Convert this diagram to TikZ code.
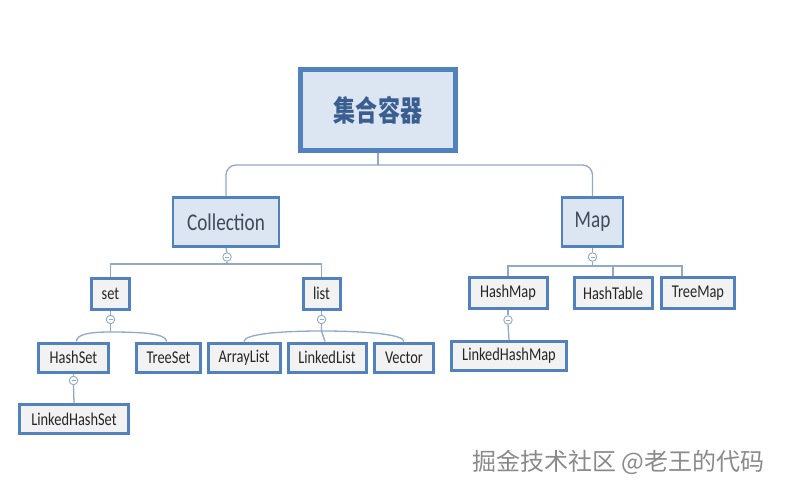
\documentclass[tikz,border=0pt]{standalone}
\usepackage{fontspec}
\setmainfont{Carlito}[FakeStretch=0.8]
\newfontfamily\cjk{Noto Sans CJK SC}
\newfontfamily\cjknarrow{Noto Sans CJK SC}[FakeStretch=0.76]
\definecolor{bordblue}{HTML}{5282BE}
\definecolor{lightfill}{HTML}{DCE6F2}
\definecolor{childfill}{HTML}{F2F2F2}
\definecolor{connc}{HTML}{8EA9C9}
\definecolor{roottext}{HTML}{3B5E91}
\definecolor{midtext}{HTML}{3E4A5C}
\definecolor{wmark}{HTML}{8A8A8A}
\tikzset{
  rootbox/.style={draw=bordblue,fill=lightfill,line width=4.5pt,minimum width=155pt,minimum height=81pt,inner sep=0pt,font=\cjknarrow\bfseries\fontsize{29}{32}\selectfont,text=roottext},
  midbox/.style={draw=bordblue,fill=lightfill,line width=2.8pt,minimum height=49pt,inner sep=0pt,font=\fontsize{24}{27}\selectfont,text=midtext},
  childbox/.style={draw=bordblue,fill=childfill,line width=3pt,inner sep=0pt,font=\fontsize{18}{20}\selectfont,text=black!85},
  conn/.style={draw=connc,line width=1.3pt},
  collapse/.style={circle,draw=connc,line width=0.9pt,fill=white,minimum size=8.5pt,inner sep=0pt,
    path picture={\draw[connc,line width=0.7pt] ([xshift=-2pt]path picture bounding box.center) -- ([xshift=2pt]path picture bounding box.center);}},
}
\begin{document}
\begin{tikzpicture}[x=1pt,y=-1pt]
\useasboundingbox (0,0) rectangle (795,493);
% nodes
\node[rootbox] (root) at (378,110) {集合容器};
\node[midbox,minimum width=106pt] (coll) at (226,222) {Collection};
\node[midbox,minimum width=61pt] (map) at (592.5,222) {Map};

\node[childbox,minimum width=38pt,minimum height=31pt] (set) at (110.5,294) {set};
\node[childbox,minimum width=37pt,minimum height=31pt] (list) at (321.5,293.5) {list};
\node[childbox,minimum width=78pt,minimum height=31pt] (hashmap) at (508,293) {HashMap};
\node[childbox,minimum width=78pt,minimum height=31pt] (hashtable) at (613,293) {HashTable};
\node[childbox,minimum width=73pt,minimum height=31pt] (treemap) at (698,293) {TreeMap};

\node[childbox,minimum width=70pt,minimum height=29pt] (hashset) at (73.5,357.5) {HashSet};
\node[childbox,minimum width=64pt,minimum height=29pt] (treeset) at (168.5,357.5) {TreeSet};
\node[childbox,minimum width=72pt,minimum height=29pt] (arraylist) at (244,357.5) {ArrayList};
\node[childbox,minimum width=78pt,minimum height=29pt] (linkedlist) at (327,357.5) {LinkedList};
\node[childbox,minimum width=59pt,minimum height=29pt] (vector) at (404,357.5) {Vector};
\node[childbox,minimum width=109pt,minimum height=29pt] (linkedhashset) at (74,419) {LinkedHashSet};
\node[childbox,minimum width=115pt,minimum height=29pt] (linkedhashmap) at (509,356) {LinkedHashMap};

% collapse markers
\node[collapse] (c1) at (227,257) {};
\node[collapse] (m1) at (592.5,257) {};
\node[collapse] (s1) at (110.5,319.5) {};
\node[collapse] (l1) at (321.5,319.5) {};
\node[collapse] (hs1) at (73.5,380.5) {};
\node[collapse] (hm1) at (508,320) {};

% junction coordinates
\coordinate (hub) at (378,165);
\coordinate (h1) at (227,264);
\coordinate (h2) at (592.5,266);
\coordinate (j1) at (110.5,332);
\coordinate (j2) at (321.5,331);

% connectors
\draw[conn] (root.south) -- (hub);
\draw[conn,rounded corners=10pt] (coll.north) -- (coll.north |- hub) -- (map.north |- hub) -- (map.north);

\draw[conn] (coll.south) -- (c1.north);
\draw[conn] (c1.south) -- (h1);
\draw[conn] (set.north) -- (set.north |- h1) -- (list.north |- h1) -- (list.north);

\draw[conn] (map.south) -- (m1.north);
\draw[conn] (m1.south) -- (h2);
\draw[conn] (hashmap.north) -- (hashmap.north |- h2) -- ([xshift=-16pt]treemap.north |- h2) -- ([xshift=-16pt]treemap.north);
\draw[conn] (hashtable.north) -- (hashtable.north |- h2);

\draw[conn] (set.south) -- (s1.north);
\draw[conn] (s1.south) -- (j1);
\draw[conn] ([xshift=3pt]hashset.north) .. controls +(0,-7) and +(-22,0) .. (j1) .. controls +(38,0) and +(0,-7) .. ([xshift=-2pt]treeset.north);

\draw[conn] (list.south) -- (l1.north);
\draw[conn] (l1.south) -- (j2) -- ([xshift=-2pt]linkedlist.north);
\draw[conn] (arraylist.north) .. controls +(0,-7) and +(-45,0) .. (j2) .. controls +(45,0) and +(0,-7) .. (vector.north);

\draw[conn] (hashset.south) -- (hs1.north);
\draw[conn] (hs1.south) -- (linkedhashset.north);
\draw[conn] (hashmap.south) -- (hm1.north);
\draw[conn] (hm1.south) -- (linkedhashmap.north);

% watermark
\node[anchor=west,inner sep=0pt,text=wmark,font=\cjk\fontsize{24}{26}\selectfont] (wm) at (472,462) {掘金技术社区 @老王的代码};
\end{tikzpicture}
\end{document}
